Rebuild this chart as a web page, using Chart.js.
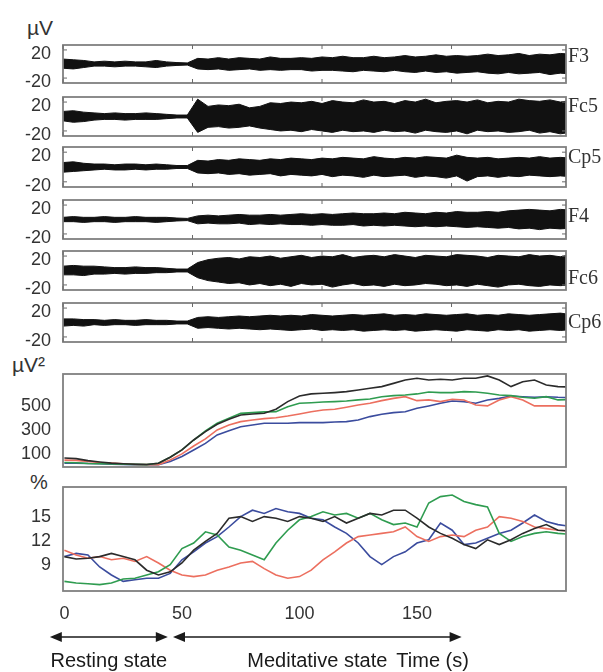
<!DOCTYPE html>
<html>
<head>
<meta charset="utf-8">
<title>EEG - resting vs meditative state</title>
<script src="https://cdn.jsdelivr.net/npm/chart.js@4.4.1/dist/chart.umd.min.js"></script>
<style>
    body { margin: 0; background: #fff; }
    #figure { position: relative; width: 603px; height: 672px; overflow: hidden; }
    .panel { position: absolute; left: 0; width: 603px; }
    .unit { position: absolute; font-family: 'Liberation Sans', Arial, sans-serif; color: #333; line-height: 22px; }
</style>
</head>
<body>
<div id="figure">
    <div class="unit" style="left:27px; top:17px; font-size:21px;">µV</div>
    <div class="unit" style="left:12px; top:354px; font-size:21px;">µV²</div>
    <div class="unit" style="left:30px; top:471px; font-size:20px;">%</div>
    <div class="panel" style="top:33px; height:62px;"><canvas id="eeg0"></canvas></div>
    <div class="panel" style="top:85px; height:63px;"><canvas id="eeg1"></canvas></div>
    <div class="panel" style="top:135px; height:64px;"><canvas id="eeg2"></canvas></div>
    <div class="panel" style="top:188px; height:63px;"><canvas id="eeg3"></canvas></div>
    <div class="panel" style="top:239px; height:63px;"><canvas id="eeg4"></canvas></div>
    <div class="panel" style="top:291px; height:63px;"><canvas id="eeg5"></canvas></div>
    <div class="panel" style="top:362px; height:117px;"><canvas id="powerGraph"></canvas></div>
    <div class="panel" style="top:475px; height:197px;"><canvas id="percentGraph"></canvas></div>
</div>
<script>
// ---- data ----
// raw EEG, drawn as the upper / lower envelope of the trace (uV), one sample every 4 s
const eegTime = [0,4,8,12,16,20,24,28,32,36,40,44,48,52,56,60,64,68,72,76,80,84,88,92,96,100,104,108,112,116,120,124,128,132,136,140,144,148,152,156,160,164,168,172,176,180,184,188,192,196];
const channels = ['F3', 'Fc5', 'Cp5', 'F4', 'Fc6', 'Cp6'];

const f3Upper = [7,6,5,3,4,3,4,3,3,5,3,2,1.5, 8,7,9,7,9,8,7,10,8,8,9,8,10,9,11,9,9,11,9,10,12,10,11,13,11,12,11,12,14,12,13,15,12,14,13,15,14];
const f3Lower = [-6,-7,-5,-3,-3,-4,-3,-3,-4,-5,-3,-2,-1.5, -7,-8,-7,-9,-8,-7,-9,-8,-9,-8,-8,-10,-9,-9,-10,-11,-9,-10,-11,-9,-11,-12,-10,-12,-11,-13,-12,-11,-13,-14,-12,-14,-13,-12,-15,-13,-14];
const fc5Upper = [7,8,6,5,4,5,4,4,5,4,3,2,2, 24,14,16,15,17,12,14,19,18,20,19,21,18,22,20,19,23,20,21,18,22,20,24,19,21,22,20,23,19,21,20,24,22,21,23,20,22];
const fc5Lower = [-6,-8,-7,-5,-4,-4,-5,-4,-4,-4,-3,-2,-2, -22,-15,-14,-16,-15,-13,-16,-18,-20,-19,-21,-18,-20,-22,-19,-21,-20,-22,-19,-21,-20,-23,-19,-21,-22,-20,-24,-19,-21,-20,-22,-21,-19,-23,-21,-24,-22];
const cp5Upper = [6,7,5,4,4,3,4,4,3,4,3,2,2, 9,8,10,9,11,10,9,11,10,12,11,10,12,11,13,12,11,14,12,11,13,12,14,13,12,16,13,12,13,11,12,13,12,14,12,13,12];
const cp5Lower = [-7,-6,-5,-4,-3,-4,-4,-3,-4,-3,-3,-2,-2, -8,-9,-8,-10,-9,-11,-10,-9,-12,-10,-11,-12,-10,-13,-11,-12,-14,-11,-13,-12,-11,-14,-12,-13,-15,-12,-19,-13,-12,-14,-12,-13,-11,-12,-13,-12,-13];
const f4Upper = [3,4,3,3,4,3,3,4,3,3,3,2,1.5, 5,6,5,6,7,6,6,7,6,7,8,7,8,7,8,9,8,8,9,8,10,9,8,10,9,11,10,10,11,10,12,13,14,13,12,14,13];
const f4Lower = [-3,-3,-4,-3,-3,-4,-3,-3,-3,-4,-3,-2,-1.5, -6,-5,-6,-6,-5,-7,-6,-7,-6,-7,-7,-8,-7,-8,-8,-7,-9,-8,-9,-8,-9,-10,-9,-10,-9,-10,-11,-10,-11,-12,-11,-13,-12,-14,-12,-13,-12];
const fc6Upper = [6,7,6,6,5,4,4,5,4,4,3,2,2, 11,15,17,18,16,19,18,20,17,19,21,18,20,19,22,18,20,21,19,22,20,18,21,20,19,22,21,20,18,21,20,19,22,20,21,19,22];
const fc6Lower = [-6,-6,-7,-5,-5,-4,-5,-4,-4,-3,-3,-2,-2, -10,-14,-16,-18,-17,-20,-18,-21,-19,-22,-18,-20,-19,-23,-20,-18,-21,-20,-22,-19,-21,-20,-18,-19,-21,-20,-22,-19,-21,-23,-20,-19,-21,-22,-20,-21,-20];
const cp6Upper = [5,5,4,4,3,4,3,3,4,3,3,2,2, 7,8,7,8,9,8,9,10,9,10,9,11,10,9,10,11,10,11,12,10,11,10,12,11,10,11,12,10,11,10,12,11,10,11,12,13,11];
const cp6Lower = [-5,-4,-5,-3,-4,-3,-3,-4,-3,-3,-3,-2,-2, -8,-7,-8,-9,-8,-9,-10,-9,-10,-11,-10,-9,-11,-10,-11,-10,-12,-11,-10,-11,-10,-12,-11,-10,-11,-12,-10,-11,-12,-10,-11,-10,-12,-11,-10,-11,-10];

const eegUpper = [f3Upper, fc5Upper, cp5Upper, f4Upper, fc6Upper, cp6Upper];
const eegLower = [f3Lower, fc5Lower, cp5Lower, f4Lower, fc6Lower, cp6Lower];

// band power (uV^2) and relative power (%), one sample every 5 s
const trendTime = [0,5,10,15,20,25,30,35,40,45,50,55,60,65,70,75,80,85,90,95,100,105,110,115,120,125,130,135,140,145,150,155,160,165,170,175,180,185,190,195,200,205,210,215];

const powerBlack = [58,53,36,25,15,10,6,4,14,64,125,208,278,339,380,417,425,431,464,528,575,592,597,603,611,625,639,653,680,708,722,708,714,708,722,722,742,708,653,694,708,667,653,650];
const powerGreen = [20,18,12,10,8,6,5,3,14,64,125,208,283,347,389,430,436,442,444,486,514,519,525,528,533,542,550,569,578,583,592,608,603,603,611,608,597,583,578,564,556,569,542,545];
const powerRed = [40,38,30,20,15,10,5,3,3,42,92,158,217,292,333,361,375,386,394,408,425,444,458,464,481,500,514,536,555,569,536,542,528,547,542,500,492,542,569,542,492,492,492,490];
const powerBlue = [15,15,12,10,6,5,3,2,2,28,70,125,180,250,286,319,333,347,347,347,353,353,353,358,361,375,403,422,436,444,472,492,514,533,528,514,542,555,575,569,564,569,564,562];

const pctBlack = [9.8,9.5,9.6,9.8,10.2,9.8,9.4,8.1,7.5,7.9,9.0,10.6,11.7,12.7,14.6,14.8,14.2,14.8,14.6,14.2,14.8,14.6,14.2,14.8,14.0,14.6,15.2,15.0,15.6,15.6,14.6,13.5,12.7,12.1,11.3,10.8,11.9,11.3,11.9,12.7,13.3,13.8,13.1,13.0];
const pctGreen = [6.7,6.5,6.4,6.3,6.5,7.0,7.1,7.5,7.9,8.8,10.8,11.5,12.9,12.5,11.0,10.6,10.0,9.4,11.5,13.1,14.4,14.8,15.4,15.0,15.2,14.6,15.2,14.4,13.8,14.0,13.5,16.5,17.3,17.5,16.7,16.3,16.0,12.7,11.7,12.3,12.7,12.9,12.7,12.6];
const pctRed = [10.6,10.0,9.6,9.8,9.4,9.6,9.2,9.8,9.0,8.1,7.5,7.3,7.5,8.1,8.5,9.0,9.2,8.3,7.5,7.1,7.3,8.1,9.4,10.4,11.5,12.3,12.5,12.7,12.9,13.5,12.3,11.7,12.3,12.5,12.3,13.1,13.5,14.8,14.6,14.2,13.5,13.3,13.1,13.0];
const pctBlue = [9.8,10.2,10.0,8.5,7.5,6.7,6.9,7.1,7.1,7.7,9.4,10.4,11.5,12.3,13.5,14.8,15.6,15.2,15.8,15.4,15.2,14.6,14.4,13.5,12.7,11.5,9.8,8.8,9.8,10.4,11.5,11.9,14.0,13.1,11.3,11.5,12.1,12.7,13.1,14.0,15.0,14.2,13.8,13.6];

// ticks
const eegTimeTicks = [0, 50, 100, 150];
const eegTicks = [-20, 20];
const powerTicks = [100, 300, 500];
const pctTicks = [9, 12, 15];
const timeTicks = [0, 50, 100, 150];

// phases under the time axis (s)
const phaseNames = ['Resting state', 'Meditative state'];
const phaseSpans = [[-6.2, 44], [46.2, 169]];
const timeTitle = 'Time (s)';

// ---- styling ----
const sansFont = 'Liberation Sans, Arial, sans-serif';
const tagLevel = [11, 13, 12.5, 3.5, -12, 0]; // where the electrode name sits, in uV
const lineColors = {black: '#2b2b2b', green: '#2f9c50', red: '#ec6f5f', blue: '#3b4c9e'};

// chart.js reserves room for half a label above/below the axis, we place the boxes ourselves
function noEdgePadding(s) {
    s.paddingTop = 0;
    s.paddingBottom = 0;
    s.paddingLeft = 0;
    s.paddingRight = 0;
}

const framePlugin = {
    id: 'frame',
    afterDatasetsDraw(chart, args, opts) {
        const {ctx, chartArea: a} = chart;
        ctx.save();
        ctx.strokeStyle = '#808080';
        ctx.lineWidth = 1.8;
        ctx.strokeRect(a.left, a.top, a.right - a.left, a.bottom - a.top);
        if (opts.innerTicks) {
            const xs = chart.scales.x;
            const ys = chart.scales.y;
            ctx.lineWidth = 1;
            ctx.strokeStyle = '#6a6a6a';
            ctx.beginPath();
            xs.ticks.forEach(t => {
                const px = xs.getPixelForValue(t.value);
                ctx.moveTo(px, a.top); ctx.lineTo(px, a.top + 4);
                ctx.moveTo(px, a.bottom); ctx.lineTo(px, a.bottom - 4);
            });
            ys.ticks.forEach(t => {
                const py = ys.getPixelForValue(t.value);
                ctx.moveTo(a.left, py); ctx.lineTo(a.left + 4, py);
                ctx.moveTo(a.right, py); ctx.lineTo(a.right - 4, py);
            });
            ctx.stroke();
        }
        if (opts.tag) {
            ctx.font = '20px "Liberation Serif", "Times New Roman", serif';
            ctx.fillStyle = '#333';
            ctx.textAlign = 'left';
            ctx.textBaseline = 'middle';
            ctx.fillText(opts.tag, a.right + 2, chart.scales.y.getPixelForValue(opts.tagLevel));
        }
        ctx.restore();
    }
};

function arrowHead(ctx, x, y, dir) {
    ctx.beginPath();
    ctx.moveTo(x, y);
    ctx.lineTo(x - dir * 12, y - 5);
    ctx.lineTo(x - dir * 12, y + 5);
    ctx.closePath();
    ctx.fill();
}

const phasePlugin = {
    id: 'phases',
    afterDraw(chart) {
        const {ctx, chartArea: a} = chart;
        const xs = chart.scales.x;
        const arrowY = a.bottom + 46;
        const textY = a.bottom + 76;
        ctx.save();
        ctx.fillStyle = '#1a1a1a';
        ctx.strokeStyle = '#1a1a1a';
        ctx.lineWidth = 1.6;
        ctx.font = '20px ' + sansFont;
        ctx.textBaseline = 'alphabetic';
        let lastRight = 0;
        phaseSpans.forEach((span, i) => {
            const x0 = xs.getPixelForValue(span[0]);
            const x1 = xs.getPixelForValue(span[1]);
            ctx.beginPath();
            ctx.moveTo(x0 + 8, arrowY);
            ctx.lineTo(x1 - 8, arrowY);
            ctx.stroke();
            arrowHead(ctx, x0, arrowY, -1);
            arrowHead(ctx, x1, arrowY, 1);
            ctx.textAlign = 'center';
            ctx.fillText(phaseNames[i], (x0 + x1) / 2, textY);
            lastRight = (x0 + x1) / 2 + ctx.measureText(phaseNames[i]).width / 2;
        });
        ctx.textAlign = 'left';
        ctx.fillText(timeTitle, lastRight + 9, textY);
        ctx.restore();
    }
};

function yAxis(min, max, ticks, labelOffset) {
    return {
        min: min,
        max: max,
        afterBuildTicks: s => { s.ticks = ticks.map(v => ({value: v})); },
        afterFit: s => { s.width = 63; noEdgePadding(s); },
        ticks: {font: {family: sansFont, size: 18}, color: '#333', padding: 12, labelOffset: labelOffset},
        grid: {display: false, drawTicks: false},
        border: {display: false}
    };
}

document.addEventListener('DOMContentLoaded', () => {
    // six raw EEG channels
    channels.forEach((name, i) => {
        const ctx = document.getElementById('eeg' + i).getContext('2d');
        new Chart(ctx, {
            type: 'line',
            data: {
                labels: eegTime,
                datasets: [{
                    data: eegTime.map((t, k) => ({x: t, y: eegUpper[i][k]})),
                    borderColor: '#111',
                    backgroundColor: '#111',
                    borderWidth: 1,
                    fill: '+1'
                }, {
                    data: eegTime.map((t, k) => ({x: t, y: eegLower[i][k]})),
                    borderColor: '#111',
                    borderWidth: 1,
                    fill: false
                }]
            },
            options: {
                responsive: true,
                maintainAspectRatio: false,
                animation: false,
                events: [],
                elements: {point: {radius: 0}, line: {tension: 0}},
                layout: {padding: {top: 12, right: 37, left: 0, bottom: 0}},
                plugins: {
                    legend: {display: false},
                    tooltip: {enabled: false},
                    frame: {innerTicks: true, tag: name, tagLevel: tagLevel[i]}
                },
                scales: {
                    x: {
                        type: 'linear',
                        min: 0,
                        max: 194.2,
                        afterBuildTicks: s => { s.ticks = eegTimeTicks.map(v => ({value: v})); },
                        afterFit: s => { s.height = 12; noEdgePadding(s); },
                        ticks: {display: false},
                        grid: {display: false, drawTicks: false},
                        border: {display: false}
                    },
                    y: yAxis(-27, 27, eegTicks, 4)
                }
            },
            plugins: [framePlugin]
        });
    });

    const trendSets = (black, green, red, blue) => [
        {data: black, borderColor: lineColors.black},
        {data: green, borderColor: lineColors.green},
        {data: red, borderColor: lineColors.red},
        {data: blue, borderColor: lineColors.blue}
    ].map(d => Object.assign(d, {
        data: trendTime.map((t, k) => ({x: t, y: d.data[k]})),
        borderWidth: 1.6,
        fill: false
    }));

    const trendX = (showLabels, height) => ({
        type: 'linear',
        min: -0.6,
        max: 213.4,
        afterBuildTicks: s => { s.ticks = timeTicks.map(v => ({value: v})); },
        afterFit: s => { s.height = height; noEdgePadding(s); },
        ticks: {display: showLabels, font: {family: sansFont, size: 18}, color: '#333', padding: 12, maxRotation: 0},
        grid: {display: false, drawTicks: false},
        border: {display: false}
    });

    const powerContext = document.getElementById('powerGraph').getContext('2d');
    const powerGraph = new Chart(powerContext, {
        type: 'line',
        data: {datasets: trendSets(powerBlack, powerGreen, powerRed, powerBlue)},
        options: {
            responsive: true,
            maintainAspectRatio: false,
            animation: false,
            events: [],
            elements: {point: {radius: 0}, line: {tension: 0}},
            layout: {padding: {top: 12, right: 37, left: 0, bottom: 0}},
            plugins: {legend: {display: false}, tooltip: {enabled: false}, frame: {}},
            scales: {
                x: trendX(false, 12),
                y: yAxis(-17, 758, powerTicks, 1)
            }
        },
        plugins: [framePlugin]
    });

    const percentContext = document.getElementById('percentGraph').getContext('2d');
    const percentGraph = new Chart(percentContext, {
        type: 'line',
        data: {datasets: trendSets(pctBlack, pctGreen, pctRed, pctBlue)},
        options: {
            responsive: true,
            maintainAspectRatio: false,
            animation: false,
            events: [],
            elements: {point: {radius: 0}, line: {tension: 0}},
            layout: {padding: {top: 12, right: 37, left: 0, bottom: 0}},
            plugins: {legend: {display: false}, tooltip: {enabled: false}, frame: {}},
            scales: {
                x: trendX(true, 81),
                y: yAxis(5.5, 18.5, pctTicks, 2)
            }
        },
        plugins: [framePlugin, phasePlugin]
    });
});
</script>
</body>
</html>
